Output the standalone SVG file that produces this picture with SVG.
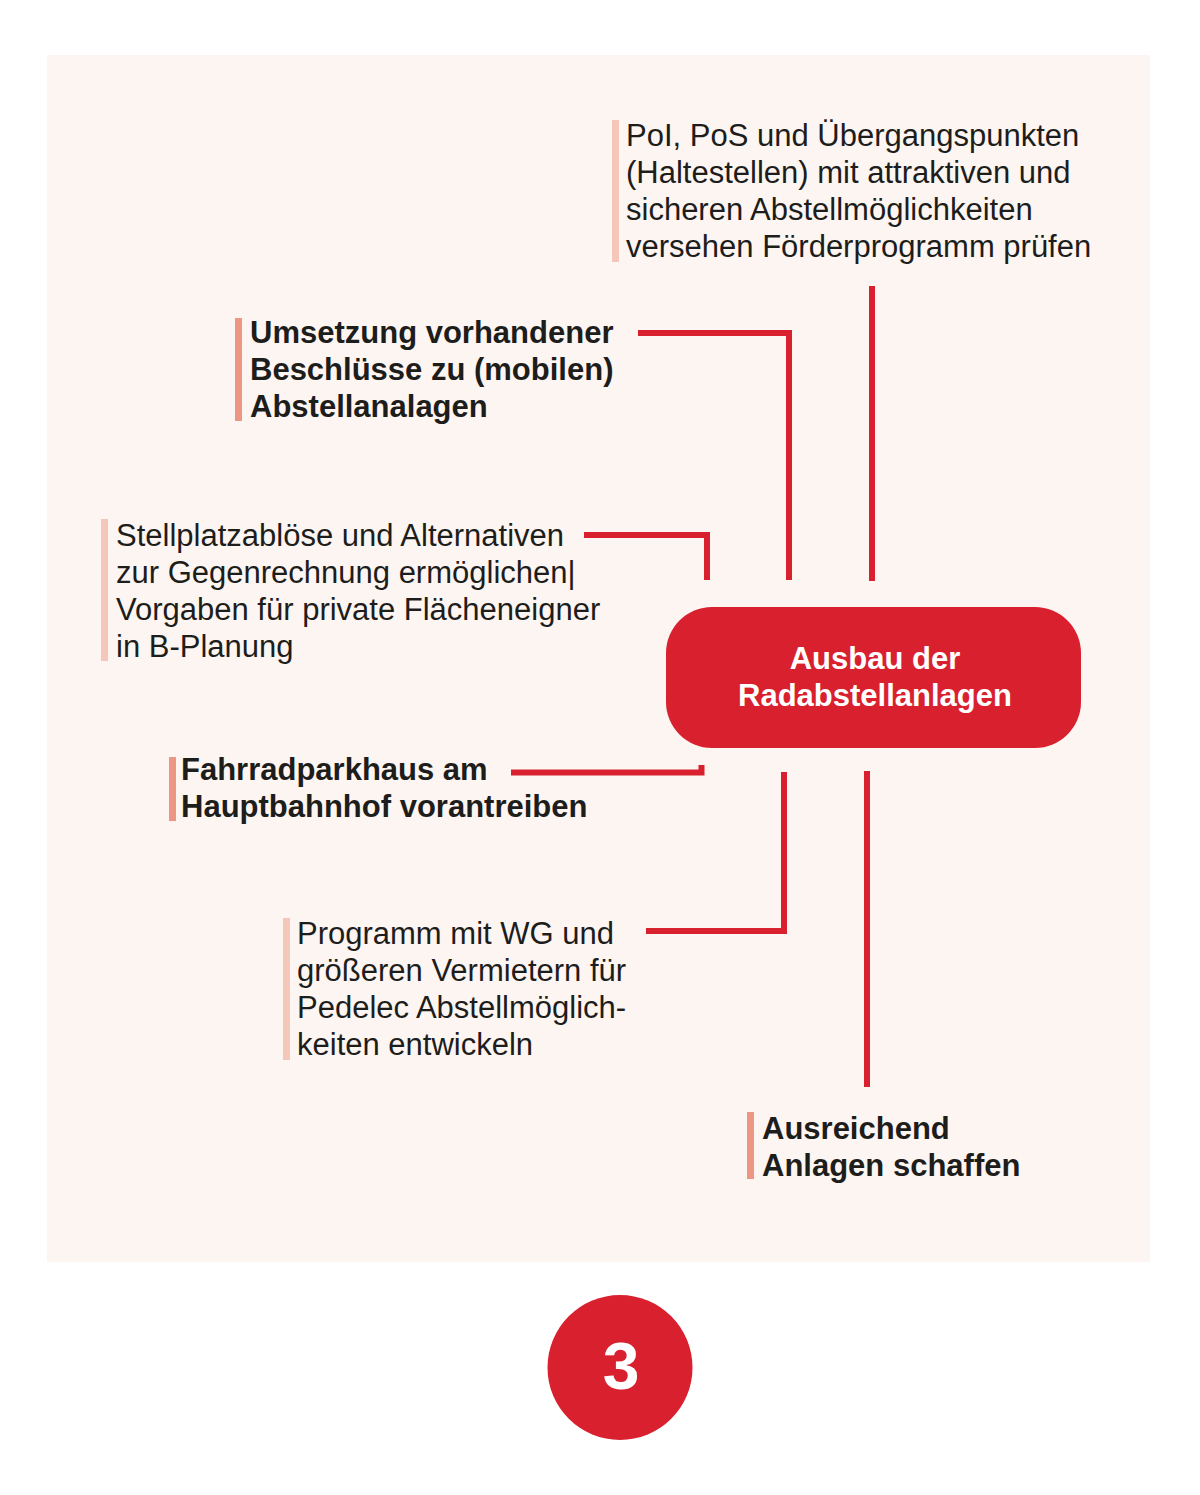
<svg xmlns="http://www.w3.org/2000/svg" width="1200" height="1495" viewBox="0 0 1200 1495">
<style>
.t{font-family:"Liberation Sans",Arial,sans-serif;font-size:31px;fill:#1d1d1b}
.b{font-weight:bold}
.w{font-family:"Liberation Sans",Arial,sans-serif;font-size:31px;font-weight:bold;fill:#ffffff}
.barL{fill:#f4c7ba}
.barD{fill:#ec9683}
.con{fill:none;stroke:#d9202e;stroke-width:6;stroke-linecap:butt;stroke-linejoin:miter}
</style>
<rect x="0" y="0" width="1200" height="1495" fill="#ffffff"/>
<rect x="47" y="55" width="1103" height="1207" fill="#fdf5f2"/>
<g id="connectors">
<path class="con" d="M872 286 V581"/>
<path class="con" d="M638 333 H789 V580"/>
<path class="con" d="M584 535 H707 V580"/>
<path class="con" d="M511 772.5 H701.5 V765"/>
<path class="con" d="M646 931 H784 V772"/>
<path class="con" d="M867 771 V1087"/>
</g>
<g id="main">
<rect x="666" y="607" width="415" height="141" rx="46" fill="#d9202e"/>
<text class="w" x="875" y="669" text-anchor="middle">Ausbau der</text>
<text class="w" x="875" y="706" text-anchor="middle">Radabstellanlagen</text>
</g>
<g id="n1">
<rect class="barL" x="612" y="120" width="7" height="142"/>
<text class="t" x="626" y="146">PoI, PoS und Übergangspunkten</text>
<text class="t" x="626" y="183">(Haltestellen) mit attraktiven und</text>
<text class="t" x="626" y="220">sicheren Abstellmöglichkeiten</text>
<text class="t" x="626" y="257">versehen Förderprogramm prüfen</text>
</g>
<g id="n2">
<rect class="barD" x="235" y="318" width="7" height="103"/>
<text class="t b" x="250" y="343">Umsetzung vorhandener</text>
<text class="t b" x="250" y="380">Beschlüsse zu (mobilen)</text>
<text class="t b" x="250" y="417">Abstellanalagen</text>
</g>
<g id="n3">
<rect class="barL" x="101" y="519" width="7" height="142"/>
<text class="t" x="116" y="546">Stellplatzablöse und Alternativen</text>
<text class="t" x="116" y="583">zur Gegenrechnung ermöglichen|</text>
<text class="t" x="116" y="620">Vorgaben für private Flächeneigner</text>
<text class="t" x="116" y="657">in B-Planung</text>
</g>
<g id="n4">
<rect class="barD" x="169" y="757" width="7" height="64"/>
<text class="t b" x="181" y="780">Fahrradparkhaus am</text>
<text class="t b" x="181" y="817">Hauptbahnhof vorantreiben</text>
</g>
<g id="n5">
<rect class="barL" x="283" y="918" width="7" height="142"/>
<text class="t" x="297" y="944">Programm mit WG und</text>
<text class="t" x="297" y="981">größeren Vermietern für</text>
<text class="t" x="297" y="1018">Pedelec Abstellmöglich-</text>
<text class="t" x="297" y="1055">keiten entwickeln</text>
</g>
<g id="n6">
<rect class="barD" x="747" y="1112" width="7" height="67"/>
<text class="t b" x="762" y="1139">Ausreichend</text>
<text class="t b" x="762" y="1176">Anlagen schaffen</text>
</g>
<g id="badge">
<circle cx="620" cy="1367.5" r="72.5" fill="#d9202e"/>
<text x="621" y="1389" text-anchor="middle" style="font-family:'Liberation Sans',Arial,sans-serif;font-size:66px;font-weight:bold;fill:#ffffff">3</text>
</g>
</svg>
